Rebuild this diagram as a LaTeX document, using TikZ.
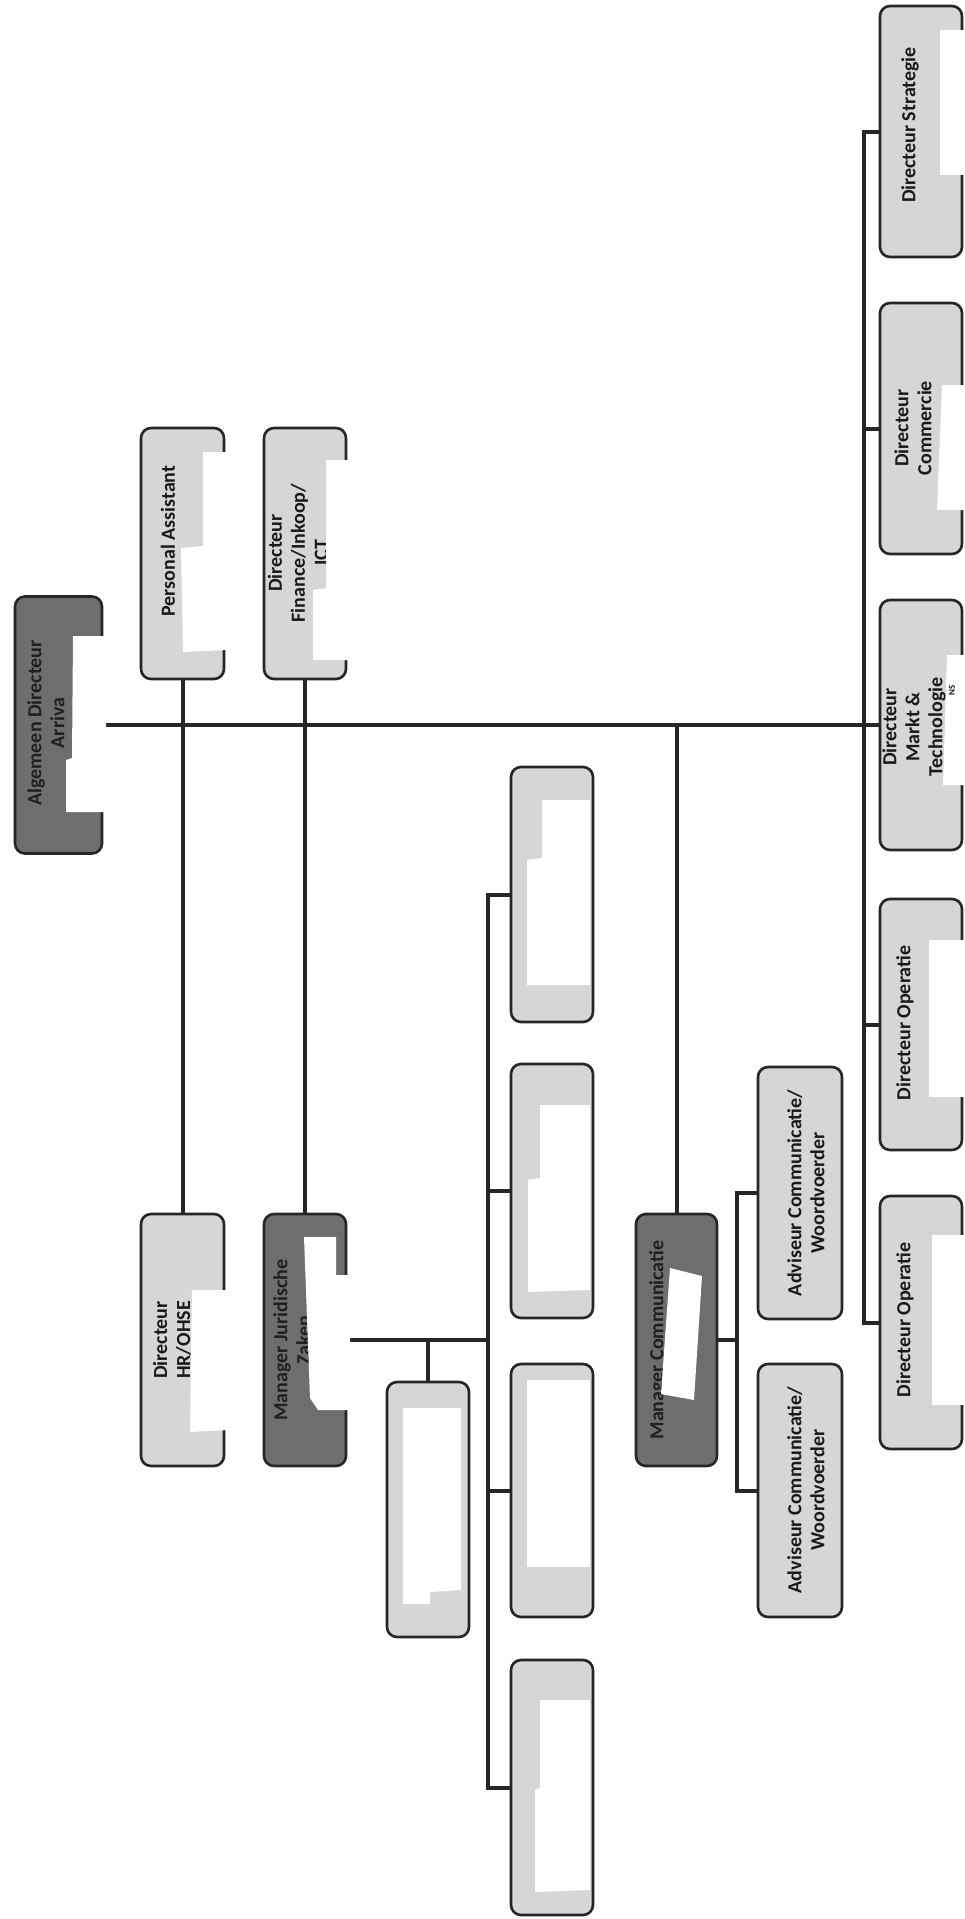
\documentclass[tikz,border=0pt]{standalone}
\usepackage{fontspec}
\setmainfont{Carlito}
\begin{document}
\begin{tikzpicture}[x=1pt,y=-1pt,
  lbox/.style={draw=black!85,line width=2.6pt,rounded corners=10pt,fill=black!16,inner sep=0pt},
  dbox/.style={lbox,fill=black!57},
  conn/.style={draw=black!85,line width=4pt},
  lbl/.style={rotate=90,align=center,font=\bfseries\fontsize{20}{23}\selectfont,text=black!90,inner sep=0pt},
  dlbl/.style={lbl,text=black!88},
  redact/.style={fill=white,draw=none}]
\useasboundingbox (0,0) rectangle (964,1919);
% boxes
\node[dbox,minimum width=87pt,minimum height=257pt] (ad) at (58.5,725) {};
\node[lbox,minimum width=83pt,minimum height=251pt] (pa) at (182.5,553.5) {};
\node[lbox,minimum width=82pt,minimum height=251pt] (fin) at (305,553.5) {};
\node[lbox,minimum width=83pt,minimum height=252pt] (hr) at (182.5,1340) {};
\node[dbox,minimum width=82pt,minimum height=252pt] (jur) at (305,1340) {};
\node[lbox,minimum width=82pt,minimum height=255pt] (jsub) at (428,1509.5) {};
\node[lbox,minimum width=82pt,minimum height=255pt] (j1) at (552,894.5) {};
\node[lbox,minimum width=82pt,minimum height=254pt] (j2) at (552,1191) {};
\node[lbox,minimum width=82pt,minimum height=253pt] (j3) at (552,1490.5) {};
\node[lbox,minimum width=82pt,minimum height=255pt] (j4) at (552,1787.5) {};
\node[dbox,minimum width=81pt,minimum height=252pt] (com) at (676.5,1340) {};
\node[lbox,minimum width=84pt,minimum height=252pt] (adv1) at (800,1193) {};
\node[lbox,minimum width=84pt,minimum height=253pt] (adv2) at (800,1490.5) {};
\node[lbox,minimum width=82pt,minimum height=251pt] (str) at (921,131.5) {};
\node[lbox,minimum width=82pt,minimum height=251pt] (cm) at (921,428.5) {};
\node[lbox,minimum width=82pt,minimum height=250pt] (mt) at (921,725) {};
\node[lbox,minimum width=82pt,minimum height=251pt] (op1) at (921,1024.5) {};
\node[lbox,minimum width=82pt,minimum height=253pt] (op2) at (921,1322.5) {};
% connectors
\draw[conn] (ad.east) -- (mt.west);
\draw[conn] (str.west) -- ++(-15,0) |- (op2.west);
\draw[conn] (cm.west) -- ++(-15,0);
\draw[conn] (op1.west) -- ++(-15,0);
\draw[conn] (pa.south) -- (hr.north);
\draw[conn] (fin.south) -- (jur.north);
\draw[conn] (com.north) -- (com.north |- ad.east);
\draw[conn] (jur.east) -- (489,1340) coordinate (jsp);
\draw[conn] (jsub.north) -- (jsub.north |- jur.east);
\draw[conn] (j1.west) -- ++(-22,0) |- (j4.west);
\draw[conn] (j2.west) -- ++(-22,0);
\draw[conn] (j3.west) -- ++(-22,0);
\draw[conn] (com.east) -- (738,1340) coordinate (csp);
\draw[conn] (adv1.west) -- ++(-20,0) |- (adv2.west);
% labels
\node[dlbl] (tad) at (46,723) {Algemeen Directeur\\Arriva};
\node[lbl] (tpa) at (168,541) {Personal Assistant};
\node[lbl] (tfin) at (298,553) {Directeur\\Finance/Inkoop/\\ICT};
\node[lbl] (thr) at (172,1340) {Directeur\\HR/OHSE};
\node[dlbl] (tjur) at (292,1340) {Manager Juridische\\Zaken};
\node[dlbl] (tcom) at (658,1340) {Manager Communicatie};
\node[lbl] (tadv1) at (806,1193) {Adviseur Communicatie/\\Woordvoerder};
\node[lbl] (tadv2) at (806,1490) {Adviseur Communicatie/\\Woordvoerder};
\node[lbl] (tstr) at (910,125) {Directeur Strategie};
\node[lbl] (tcm) at (913,428) {Directeur\\Commercie};
\node[lbl] (tmt) at (914,727) {Directeur\\Markt \&\\Technologie};
\node[lbl] (top1) at (905,1023) {Directeur Operatie};
\node[lbl] (top2) at (905,1320) {Directeur Operatie};
% redaction patches
\fill[redact] (73,636) -- (106,636) -- (106,812) -- (66,812) -- (66,760) -- (72,758) -- cycle;
\fill[redact] (203,452) -- (228,452) -- (228,650) -- (183,652) -- (181,548) -- (203,546) -- cycle;
\fill[redact] (326,460) -- (350,460) -- (350,660) -- (313,660) -- (313,590) -- (326,588) -- cycle;
\fill[redact] (192,1290) -- (228,1290) -- (228,1430) -- (190,1432) -- cycle;
\fill[redact] (304,1237) -- (336,1237) -- (336,1275) -- (350,1275) -- (350,1410) -- (318,1410) -- (310,1398) -- cycle;
\fill[redact] (403,1408) -- (461,1408) -- (461,1590) -- (430,1592) -- (430,1604) -- (403,1604) -- cycle;
\fill[redact] (542,800) -- (590,800) -- (590,985) -- (527,985) -- (527,860) -- (542,858) -- cycle;
\fill[redact] (540,1105) -- (590,1105) -- (590,1290) -- (528,1292) -- (528,1180) -- (540,1178) -- cycle;
\fill[redact] (527,1380) -- (590,1380) -- (590,1567) -- (527,1567) -- cycle;
\fill[redact] (540,1700) -- (590,1700) -- (590,1890) -- (535,1892) -- (535,1790) -- (540,1788) -- cycle;
\fill[redact] (670,1268) -- (702,1276) -- (694,1400) -- (661,1394) -- cycle;
\fill[redact] (940,30) -- (964,30) -- (964,175) -- (940,175) -- cycle;
\fill[redact] (942,385) -- (964,385) -- (964,510) -- (937,510) -- cycle;
\fill[redact] (947,655) -- (964,655) -- (964,785) -- (943,785) -- cycle;
\fill[redact] (929,940) -- (964,940) -- (964,1097) -- (929,1097) -- cycle;
\fill[redact] (932,1235) -- (964,1235) -- (964,1405) -- (932,1405) -- cycle;
\node[lbl,font=\bfseries\fontsize{9}{10}\selectfont] (tns) at (952,690) {NS};
\end{tikzpicture}
\end{document}
